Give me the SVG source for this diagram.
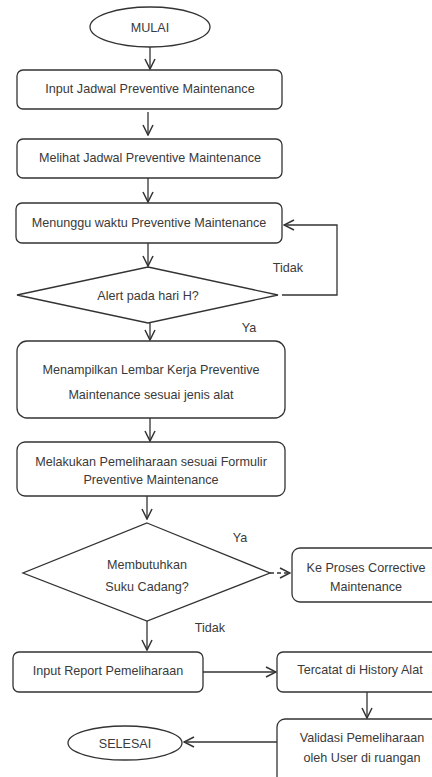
<svg xmlns="http://www.w3.org/2000/svg" width="432" height="777" viewBox="0 0 432 777">
<style>
.s{fill:#fff;stroke:#333;stroke-width:1.3}
.t{font-family:"Liberation Sans",Arial,sans-serif;font-size:12.6px;fill:#3a3a3a;text-anchor:middle}
.c{fill:none;stroke:#333;stroke-width:1.3}
</style>
<defs>
<marker id="a" viewBox="0 0 12 12" refX="11" refY="6" markerWidth="12" markerHeight="12" markerUnits="userSpaceOnUse" orient="auto">
<path d="M1,1 L11,6 L1,11" fill="none" stroke="#333" stroke-width="1.5"/>
</marker>
</defs>
<rect width="432" height="777" fill="#fff"/>
<g id="connectors">
<line class="c" x1="150" y1="47" x2="150" y2="69" marker-end="url(#a)"/>
<line class="c" x1="148" y1="112" x2="148" y2="135" marker-end="url(#a)"/>
<line class="c" x1="148" y1="178" x2="148" y2="202" marker-end="url(#a)"/>
<line class="c" x1="148" y1="243" x2="148" y2="266" marker-end="url(#a)"/>
<polyline class="c" points="282,295 337,295 337,225 284,225" marker-end="url(#a)"/>
<line class="c" x1="150" y1="323" x2="150" y2="340" marker-end="url(#a)"/>
<line class="c" x1="150" y1="418" x2="150" y2="441" marker-end="url(#a)"/>
<line class="c" x1="147" y1="496" x2="147" y2="519" marker-end="url(#a)"/>
<line class="c" x1="270" y1="573" x2="290" y2="573" stroke-dasharray="4,3" marker-end="url(#a)"/>
<line class="c" x1="147" y1="621" x2="147" y2="650" marker-end="url(#a)"/>
<line class="c" x1="203" y1="672" x2="276" y2="672" marker-end="url(#a)"/>
<line class="c" x1="367" y1="692" x2="367" y2="718" marker-end="url(#a)"/>
<line class="c" x1="277" y1="742" x2="184" y2="742" marker-end="url(#a)"/>
</g>
<g id="mulai"><ellipse class="s" cx="150" cy="27" rx="60" ry="20"/><text class="t" x="150" y="32">MULAI</text></g>
<g id="input-jadwal"><rect class="s" x="17" y="70" width="265" height="39" rx="6"/><text class="t" x="150" y="93">Input Jadwal  Preventive Maintenance</text></g>
<g id="melihat-jadwal"><rect class="s" x="17" y="139" width="265" height="39" rx="6"/><text class="t" x="150" y="162">Melihat Jadwal Preventive Maintenance</text></g>
<g id="menunggu"><rect class="s" x="16" y="203" width="266" height="40" rx="6"/><text class="t" x="149" y="227">Menunggu waktu Preventive Maintenance</text></g>
<g id="alert"><polygon class="s" points="148,267 278,295 148,323 17,295"/><text class="t" x="148" y="300">Alert pada hari H?</text></g>
<g id="label-tidak1"><text class="t" x="288" y="272">Tidak</text></g>
<g id="label-ya1"><text class="t" x="249" y="332">Ya</text></g>
<g id="menampilkan"><rect class="s" x="17" y="341" width="268" height="77" rx="10"/><text class="t" x="151" y="374">Menampilkan Lembar Kerja Preventive</text><text class="t" x="151" y="399">Maintenance sesuai jenis alat</text></g>
<g id="melakukan"><rect class="s" x="17" y="442" width="268" height="54" rx="8"/><text class="t" x="151" y="466">Melakukan Pemeliharaan  sesuai Formulir</text><text class="t" x="151" y="484">Preventive Maintenance</text></g>
<g id="membutuhkan"><polygon class="s" points="147,523 270,573 147,621 23,573"/><text class="t" x="147" y="569">Membutuhkan</text><text class="t" x="147" y="591">Suku Cadang?</text></g>
<g id="label-ya2"><text class="t" x="240" y="542">Ya</text></g>
<g id="label-tidak2"><text class="t" x="210" y="632">Tidak</text></g>
<g id="ke-proses"><rect class="s" x="292" y="548" width="150" height="54" rx="8"/><text class="t" x="366" y="572">Ke Proses Corrective</text><text class="t" x="366" y="591">Maintenance</text></g>
<g id="input-report"><rect class="s" x="13" y="652" width="190" height="40" rx="6"/><text class="t" x="108" y="675">Input Report Pemeliharaan</text></g>
<g id="tercatat"><rect class="s" x="277" y="652" width="165" height="40" rx="6"/><text class="t" x="360" y="674">Tercatat di History Alat</text></g>
<g id="validasi"><rect class="s" x="277" y="719" width="165" height="70" rx="8"/><text class="t" x="362" y="742">Validasi Pemeliharaan</text><text class="t" x="362" y="762">oleh User di ruangan</text></g>
<g id="selesai"><ellipse class="s" cx="125" cy="743" rx="57" ry="17"/><text class="t" x="125" y="748">SELESAI</text></g>
</svg>
